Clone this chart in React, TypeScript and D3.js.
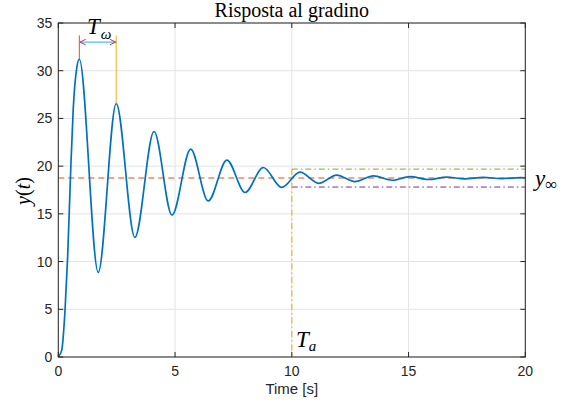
import React from "react";
import * as d3 from "d3";

// ---- data ----
const timeS: number[] = [0, 0.15, 0.29, 0.4, 0.53, 0.64, 0.79, 0.9, 1.71, 2.48, 3.28, 4.1, 4.87, 5.67, 6.42, 7.22, 8.0, 8.78, 9.57, 10.35, 11.15, 11.92, 12.7, 13.5, 14.3, 15.07, 15.85, 16.63, 17.4, 18.2, 19.0, 19.8, 20];
const response: number[] = [0, 0.75, 5, 10.5, 19.5, 26, 30.3, 31.2, 8.87, 26.56, 12.53, 23.63, 14.87, 21.78, 16.35, 20.63, 17.24, 19.86, 17.77, 19.37, 18.2, 19.06, 18.38, 18.98, 18.52, 18.9, 18.6, 18.85, 18.66, 18.82, 18.7, 18.79, 18.78];
const xTicks: number[] = [0, 5, 10, 15, 20];
const yTicks: number[] = [0, 5, 10, 15, 20, 25, 30, 35];
const yInf = 18.75;
const bandHigh = 19.69;
const bandLow = 17.81;
const settlingTime = 10;
const peakTimes: number[] = [0.9, 2.48];
const peakValues: number[] = [31.2, 26.56];
const annotTop = 33.7;
const arrowLevel = 33.0;

const W = 576, H = 406;
const L = 58.3, R = 525.3, T = 23, B = 357;

export default function App() {
  const x = d3.scaleLinear().domain([0, 20]).range([L, R]);
  const y = d3.scaleLinear().domain([0, 35]).range([B, T]);
  const pts: [number, number][] = timeS.map((t, i) => [t, response[i]]);
  const line = d3.line<[number, number]>().x(d => x(d[0])).y(d => y(d[1])).curve(d3.curveMonotoneX);
  const axisCol = "#262626";
  const grid = "#e3e3e3";
  const tickLen = 5;
  const sans = "'Liberation Sans', Arial, sans-serif";
  const serif = "'Liberation Serif', 'Times New Roman', serif";
  const ax1 = x(peakTimes[0]), ax2 = x(peakTimes[1]), ay = y(arrowLevel);
  const ah = 4;
  return (
    <svg width={W} height={H} style={{ position: "absolute", left: 0, top: 0, background: "#fff" }}>
      <rect x={0} y={0} width={W} height={H} fill="#fff" />
      {/* grid */}
      {xTicks.map(t => (
        <line key={"gx" + t} x1={x(t)} x2={x(t)} y1={T} y2={B} stroke={grid} strokeWidth={1} />
      ))}
      {yTicks.map(v => (
        <line key={"gy" + v} x1={L} x2={R} y1={y(v)} y2={y(v)} stroke={grid} strokeWidth={1} />
      ))}
      {/* settling band */}
      <line x1={x(settlingTime)} x2={R} y1={y(bandHigh)} y2={y(bandHigh)} stroke="#77AC30" strokeWidth={1} strokeDasharray="6,3,1.5,3" />
      <line x1={x(settlingTime)} x2={R} y1={y(bandLow)} y2={y(bandLow)} stroke="#7E2F8E" strokeWidth={1} strokeDasharray="6,3,1.5,3" />
      <line x1={x(settlingTime)} x2={x(settlingTime)} y1={y(bandHigh)} y2={B} stroke="#EDB120" strokeWidth={1.3} strokeDasharray="6,3,1.5,3" opacity={0.85} />
      {/* final value */}
      <line x1={L} x2={R} y1={y(yInf)} y2={y(yInf)} stroke="#D95319" strokeWidth={1.1} strokeDasharray="6,4" />
      {/* response */}
      <path d={line(pts) || ""} fill="none" stroke="#0072BD" strokeWidth={1.7} />
      {/* T omega annotation */}
      <line x1={ax1} x2={ax1} y1={y(annotTop)} y2={y(peakValues[0])} stroke="#D95319" strokeWidth={1} />
      <line x1={ax2} x2={ax2} y1={y(annotTop)} y2={y(peakValues[1])} stroke="#EDB120" strokeWidth={1} />
      <line x1={ax1} x2={ax2} y1={ay} y2={ay} stroke="#4DBEEE" strokeWidth={1.2} />
      <polyline points={`${ax1 + ah * 1.6},${ay - ah * 0.7} ${ax1 + 0.5},${ay} ${ax1 + ah * 1.6},${ay + ah * 0.7}`} fill="none" stroke="#C0395A" strokeWidth={1} />
      <polyline points={`${ax2 - ah * 1.6},${ay - ah * 0.7} ${ax2 - 0.5},${ay} ${ax2 - ah * 1.6},${ay + ah * 0.7}`} fill="none" stroke="#C0395A" strokeWidth={1} />
      {/* axes box */}
      <rect x={L} y={T} width={R - L} height={B - T} fill="none" stroke={axisCol} strokeWidth={1} />
      {xTicks.map(t => (
        <g key={"tx" + t}>
          <line x1={x(t)} x2={x(t)} y1={B} y2={B - tickLen} stroke={axisCol} />
          <line x1={x(t)} x2={x(t)} y1={T} y2={T + tickLen} stroke={axisCol} />
          <text x={x(t)} y={B + 19} textAnchor="middle" fontFamily={sans} fontSize={14} fill={axisCol}>{t}</text>
        </g>
      ))}
      {yTicks.map(v => (
        <g key={"ty" + v}>
          <line x1={L} x2={L + tickLen} y1={y(v)} y2={y(v)} stroke={axisCol} />
          <line x1={R} x2={R - tickLen} y1={y(v)} y2={y(v)} stroke={axisCol} />
          <text x={L - 6} y={y(v) + 5} textAnchor="end" fontFamily={sans} fontSize={14} fill={axisCol}>{v}</text>
        </g>
      ))}
      {/* labels */}
      <text x={(L + R) / 2} y={17} textAnchor="middle" fontFamily={serif} fontSize={20} fill="#000">Risposta al gradino</text>
      <text x={(L + R) / 2} y={394} textAnchor="middle" fontFamily={sans} fontSize={15} fill={axisCol}>Time [s]</text>
      <text transform={`translate(30,191) rotate(-90)`} textAnchor="middle" fontFamily={serif} fontSize={20} fill="#000">
        <tspan fontStyle="italic">y</tspan>(<tspan fontStyle="italic">t</tspan>)
      </text>
      <text x={87} y={34} fontFamily={serif} fontSize={23} fontStyle="italic" fill="#000">
        T<tspan fontSize={15} dy={5} dx={1}>ω</tspan>
      </text>
      <text x={535} y={186} fontFamily={serif} fontSize={23} fontStyle="italic" fill="#000">
        y<tspan fontSize={17} dy={4} fontStyle="normal">∞</tspan>
      </text>
      <text x={296} y={347} fontFamily={serif} fontSize={23} fontStyle="italic" fill="#000">
        T<tspan fontSize={15} dy={4} dx={0}>a</tspan>
      </text>
    </svg>
  );
}
